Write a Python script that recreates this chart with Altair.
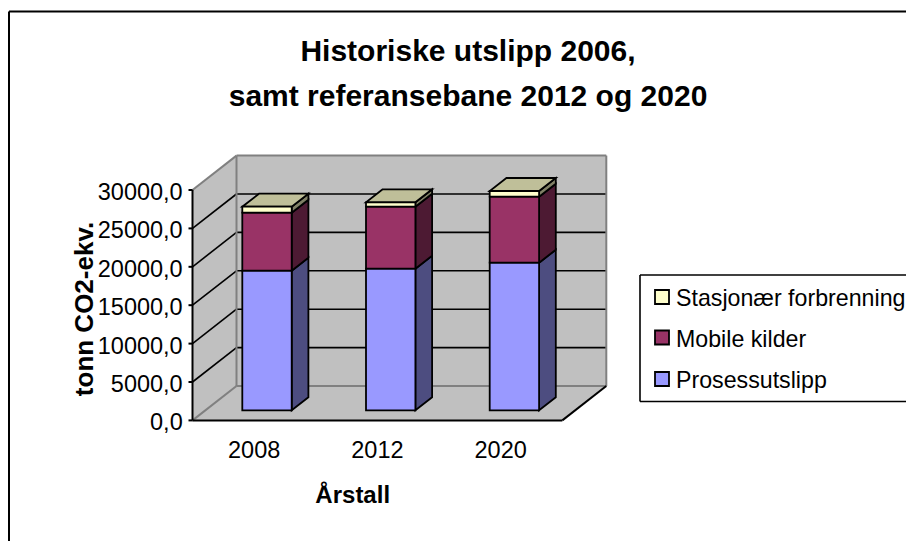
import altair as alt
import pandas as pd

categories = ["2008", "2012", "2020"]
prosess = [18180, 18440, 19220]
mobile = [7550, 8070, 8590]
stasjonaer = [780, 570, 745]
series_names = ["Prosessutslipp", "Mobile kilder", "Stasjonær forbrenning"]
front_colors = ["#9999FF", "#993366", "#FFFFCC"]
side_colors = ["#4D4D80", "#4D1A33", "#808066"]
top_color = "#BFBF99"
y_ticks = [0, 5000, 10000, 15000, 20000, 25000, 30000]

W, H = 898, 533
PX = 0.00768            # pixels per tonne
ZERO_Y = 412.4          # canvas y of value 0 on the front plane
def val(cy):
    return (ZERO_Y - cy) / PX
YDOM = [val(H), val(0)]
XS = alt.Scale(domain=[0, W], nice=False, zero=False)
YS = alt.Scale(domain=YDOM, nice=False, zero=False)

AX0, AX1 = 184.5, 554.3   # front floor edge
WDX, WDY = 44.0, 34.4 / PX
BX0, BSTEP, BW = 234.3, 123.7, 49.4
BDX, BDY = 16.7, 13.0 / PX
BASE = 10.1 / PX
YMAX = 30000
FONT = 23.5

def X(f="x"): return alt.X(f + ":Q", scale=XS, axis=None)
def Y(f="y"): return alt.Y(f + ":Q", scale=YS, axis=None, stack=None)

def rects(rows, **kw):
    return alt.Chart(pd.DataFrame(rows)).mark_rect(**kw).encode(
        x=X("x"), x2="x2:Q", y=Y("y"), y2="y2:Q",
        fill=alt.Fill("fill:N", scale=None, legend=None))

def lines(rows, color, width=1.6):
    return alt.Chart(pd.DataFrame(rows)).mark_rule(color=color, strokeWidth=width).encode(
        x=X("x"), x2="x2:Q", y=Y("y"), y2="y2:Q")

def sides(polys, **kw):   # parallelograms with vertical left and right edges
    rows = []
    for i, (x0, x1, lo, hi, d, fill) in enumerate(polys):
        rows.append(dict(id=i, x=x0, y=lo, y2=hi, fill=fill))
        rows.append(dict(id=i, x=x1, y=lo + d, y2=hi + d, fill=fill))
    return alt.Chart(pd.DataFrame(rows)).mark_area(orient="vertical", **kw).encode(
        x=X("x"), y=Y("y"), y2="y2:Q", detail="id:N",
        fill=alt.Fill("fill:N", scale=None, legend=None))

def flats(polys, **kw):   # parallelograms with horizontal front and back edges
    rows = []
    for i, (l, r, v, dx, d, fill) in enumerate(polys):
        rows.append(dict(id=i, y=v, x=l, x2=r, fill=fill))
        rows.append(dict(id=i, y=v + d, x=l + dx, x2=r + dx, fill=fill))
    return alt.Chart(pd.DataFrame(rows)).mark_area(orient="horizontal", **kw).encode(
        y=Y("y"), x=X("x"), x2="x2:Q", detail="id:N",
        fill=alt.Fill("fill:N", scale=None, legend=None))

def texts(rows, **kw):
    base = dict(font="Liberation Sans", baseline="middle", color="black")
    base.update(kw)
    return alt.Chart(pd.DataFrame(rows)).mark_text(**base).encode(
        x=X("x"), y=Y("y"), text="t:N")

layers = []
# outer frame
layers.append(lines([dict(x=1, x2=1, y=val(3.5), y2=val(H)),
                     dict(x=1, x2=W, y=val(3.5), y2=val(3.5))], "black", 2))
# walls
GREY = "#C0C0C0"
layers.append(sides([(AX0, AX0 + WDX, 0, YMAX, WDY, GREY)]))
layers.append(flats([(AX0, AX1, 0, WDX, WDY, GREY)]))
layers.append(rects([dict(x=AX0 + WDX, x2=AX1 + WDX, y=WDY, y2=YMAX + WDY, fill=GREY)]))
# gridlines
inner = [t for t in y_ticks if 0 < t < YMAX]
layers.append(lines(
    [dict(x=AX0, x2=AX0 + WDX, y=t, y2=t + WDY) for t in inner] +
    [dict(x=AX0 + WDX, x2=AX1 + WDX, y=t + WDY, y2=t + WDY) for t in inner], "black"))
G2 = "#808080"
layers.append(lines([
    dict(x=AX0, x2=AX0 + WDX, y=0, y2=WDY),
    dict(x=AX0, x2=AX0 + WDX, y=YMAX, y2=YMAX + WDY),
    dict(x=AX0 + WDX, x2=AX1 + WDX, y=WDY, y2=WDY),
    dict(x=AX0 + WDX, x2=AX1 + WDX, y=YMAX + WDY, y2=YMAX + WDY),
    dict(x=AX0 + WDX, x2=AX0 + WDX, y=WDY, y2=YMAX + WDY),
    dict(x=AX1 + WDX, x2=AX1 + WDX, y=WDY, y2=YMAX + WDY)], G2, 2))
# axis lines and floor edge
layers.append(lines(
    [dict(x=AX0, x2=AX0, y=0, y2=YMAX), dict(x=AX0, x2=AX1, y=0, y2=0),
     dict(x=AX1, x2=AX1 + WDX, y=0, y2=WDY)] +
    [dict(x=AX0 - 4, x2=AX0, y=t, y2=t) for t in y_ticks], "black", 2))

# bars
front, side_p, top_p = [], [], []
for i, c in enumerate(categories):
    left = BX0 + i * BSTEP
    right = left + BW
    lo = BASE
    for j, vals in enumerate([prosess, mobile, stasjonaer]):
        hi = lo + vals[i]
        front.append(dict(x=left, x2=right, y=lo, y2=hi, fill=front_colors[j]))
        side_p.append((right, right + BDX, lo, hi, BDY, side_colors[j]))
        lo = hi
    top_p.append((left, right, lo, BDX, BDY, top_color))
bar_style = dict(stroke="black", strokeWidth=1.8)
layers.append(sides(side_p, **bar_style))
layers.append(flats(top_p, **bar_style))
layers.append(rects(front, **bar_style))

# tick labels, titles
layers.append(texts([dict(x=174.7, y=t - 3 / PX, t=f"{t},0") for t in y_ticks], align="right", fontSize=FONT))
layers.append(texts([dict(x=(AX0 + (i + 0.5) * (AX1 - AX0) / 3), y=val(442.5), t=c)
                     for i, c in enumerate(categories)], align="center", fontSize=FONT))
layers.append(texts([dict(x=344.7, y=val(488), t="Årstall")], align="center", fontSize=24, fontWeight="bold"))
layers.append(texts([dict(x=77, y=val(301), t="tonn CO2-ekv.")], align="center", fontSize=26,
                    fontWeight="bold", angle=270))
layers.append(texts([dict(x=460, y=val(43.5), t="Historiske utslipp 2006,"),
                     dict(x=460, y=val(89), t="samt referansebane 2012 og 2020")],
                    align="center", fontSize=30, fontWeight="bold"))

# legend
layers.append(lines([dict(x=632, x2=632, y=val(267), y2=val(393.5)),
                     dict(x=632, x2=W, y=val(267), y2=val(267)),
                     dict(x=632, x2=W, y=val(393.5), y2=val(393.5))], "black", 1.6))
legend_y = [289, 329.5, 371]
order = [2, 1, 0]
layers.append(rects([dict(x=647, x2=661, y=val(legend_y[k] - 7), y2=val(legend_y[k] + 7),
                          fill=front_colors[j]) for k, j in enumerate(order)], **bar_style))
layers.append(texts([dict(x=668, y=val(legend_y[k] + 2), t=series_names[j]) for k, j in enumerate(order)],
                    align="left", fontSize=23.2))

chart = alt.layer(*layers).properties(
    width=W, height=H, padding=0, background="white",
    autosize=alt.AutoSizeParams(type="none")
).configure_view(stroke=None)

chart.save("out.html", embed_options={"renderer": "svg", "actions": False})
